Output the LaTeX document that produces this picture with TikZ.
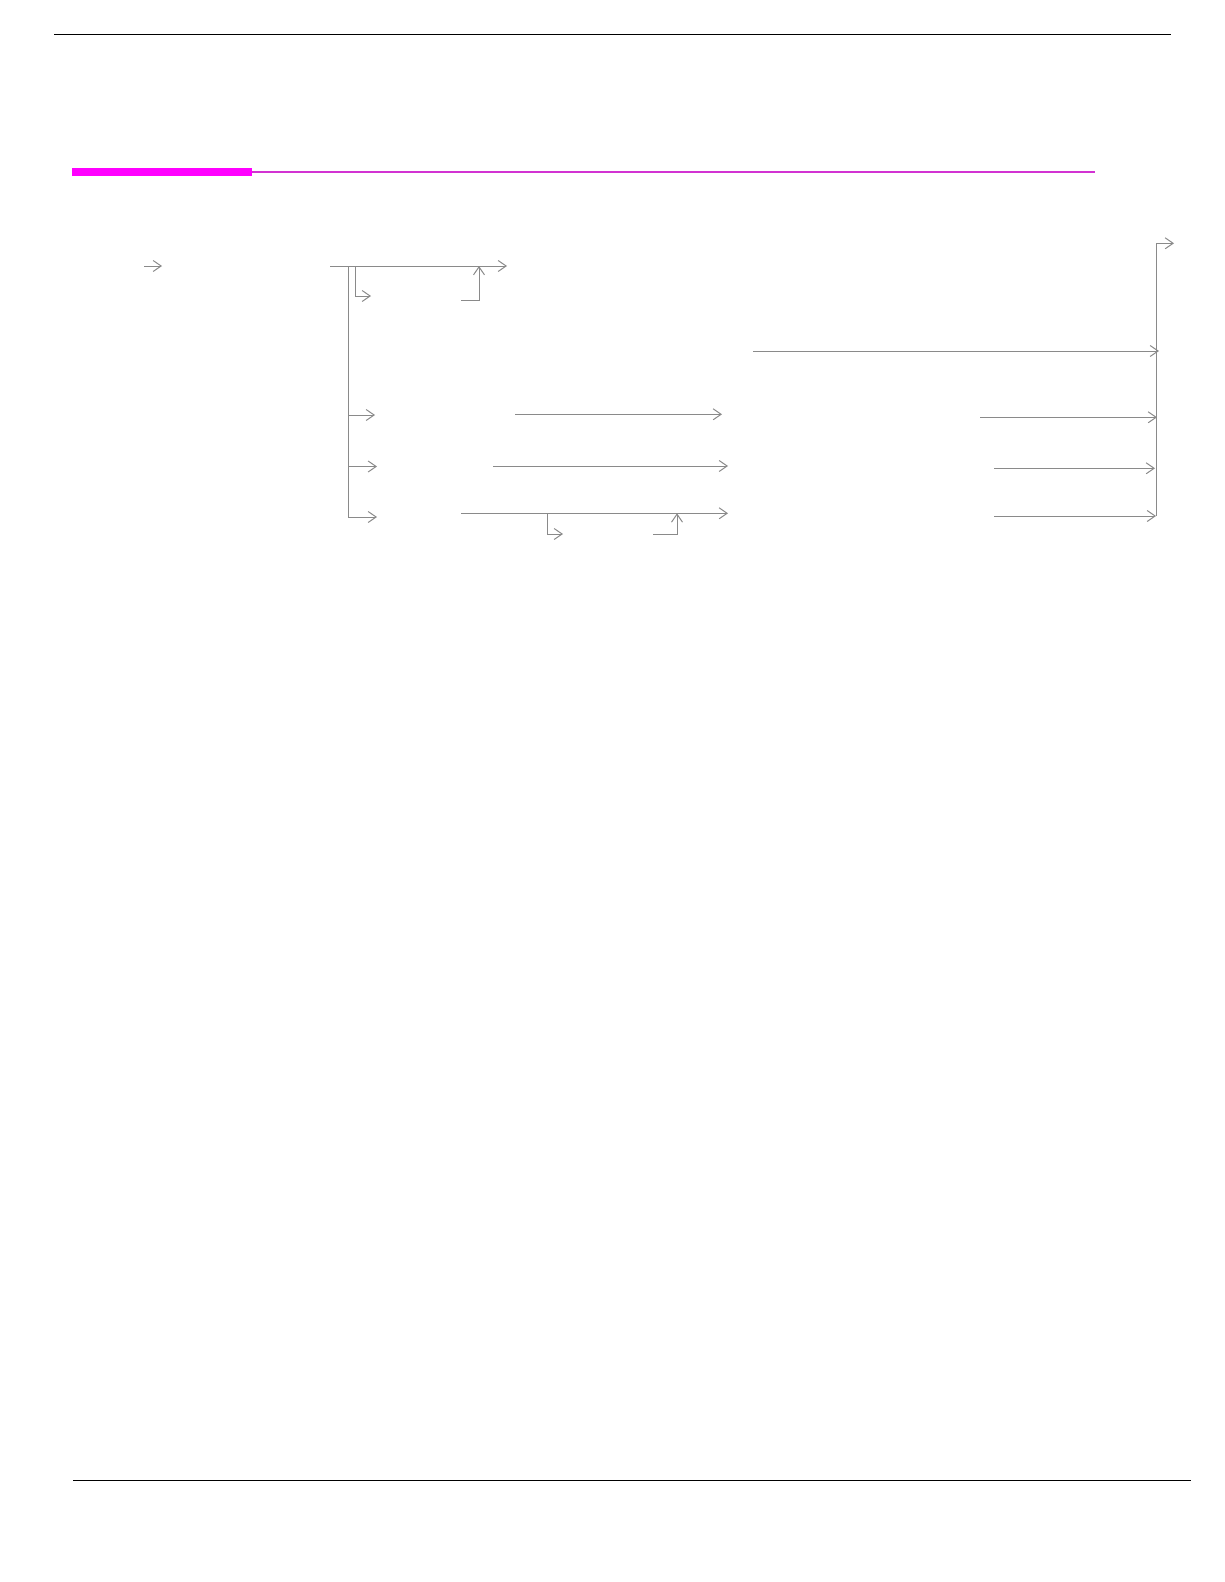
\documentclass[tikz,border=0pt]{standalone}
\usepackage{xcolor}
\usetikzlibrary{calc, arrows.meta, positioning}
\definecolor{rulemag}{RGB}{255,0,255}
\definecolor{thinmag}{RGB}{210,50,210}
\definecolor{flowgray}{RGB}{138,138,138}
\begin{document}
\begin{tikzpicture}[x=1pt, y=-1pt,
        conn/.style={draw=flowgray, line width=1pt},
        arr/.style={conn, -{Straight Barb[length=8pt,width=11pt]}}]
        \useasboundingbox (0,0) rectangle (1224,1582);

        \coordinate (topl) at (54,34.3); \coordinate (topr) at (1171,34.3);
        \coordinate (botl) at (73,1480.3); \coordinate (botr) at (1191,1480.3);
        \coordinate (bara) at (72,172); \coordinate (barb) at (252,172); \coordinate (barc) at (1095,172);
        \draw[line width=1.2pt] (topl) -- (topr);
        \draw[line width=1.2pt] (botl) -- (botr);
        \draw[rulemag, line width=8pt] (bara) -- (barb);
        \draw[thinmag, line width=2pt] (barb) -- (barc);

        \coordinate (in1) at (144,266); \coordinate (in2) at (162,266);
        \coordinate (m0) at (330,266); \coordinate (m1) at (507,266);
        \coordinate (sp) at (348,266); \coordinate (sb) at (348,517);
        \coordinate (lp) at (355,266); \coordinate (lq) at (371,296);
        \coordinate (lr) at (461,300); \coordinate (ls) at (479,266);
        \coordinate (a1) at (375,415); \coordinate (a2) at (377,466.5); \coordinate (a3) at (377,517);
        \coordinate (b1) at (515,414.3); \coordinate (c1) at (722,414.3);
        \coordinate (b2) at (493,466); \coordinate (c2) at (728,466);
        \coordinate (b3) at (461,513.3); \coordinate (c3) at (728,513.3);
        \coordinate (hp) at (547,513.3); \coordinate (hq) at (563,534);
        \coordinate (hr) at (653,534); \coordinate (hs) at (677,513.3);
        \coordinate (j0) at (753,351); \coordinate (j1) at (1159,351);
        \coordinate (k1) at (980,417.3); \coordinate (e1) at (1157,417.3);
        \coordinate (k2) at (994,468.3); \coordinate (e2) at (1155,468.3);
        \coordinate (k3) at (994,516); \coordinate (e3) at (1156,516);
        \coordinate (co) at (1156,243.3); \coordinate (out) at (1174,243.3);

        \draw[arr] (in1) -- (in2);
        \draw[arr] (m0) -- (m1);
        \draw[conn] (sp) -- (sb);
        \draw[arr] (lp) |- (lq);
        \draw[arr] (lr) -| (ls);
        \draw[arr] (sp |- a1) -- (a1);
        \draw[arr] (sp |- a2) -- (a2);
        \draw[arr] (sb) -- (a3);
        \draw[arr] (b1) -- (c1);
        \draw[arr] (b2) -- (c2);
        \draw[arr] (b3) -- (c3);
        \draw[arr] (hp) |- (hq);
        \draw[arr] (hr) -| (hs);
        \draw[arr] (j0) -- (j1);
        \draw[arr] (k1) -- (e1);
        \draw[arr] (k2) -- (e2);
        \draw[arr] (k3) -- (e3);
        \draw[arr] (e3) -- (co) -- (out);
      \end{tikzpicture}
\end{document}
